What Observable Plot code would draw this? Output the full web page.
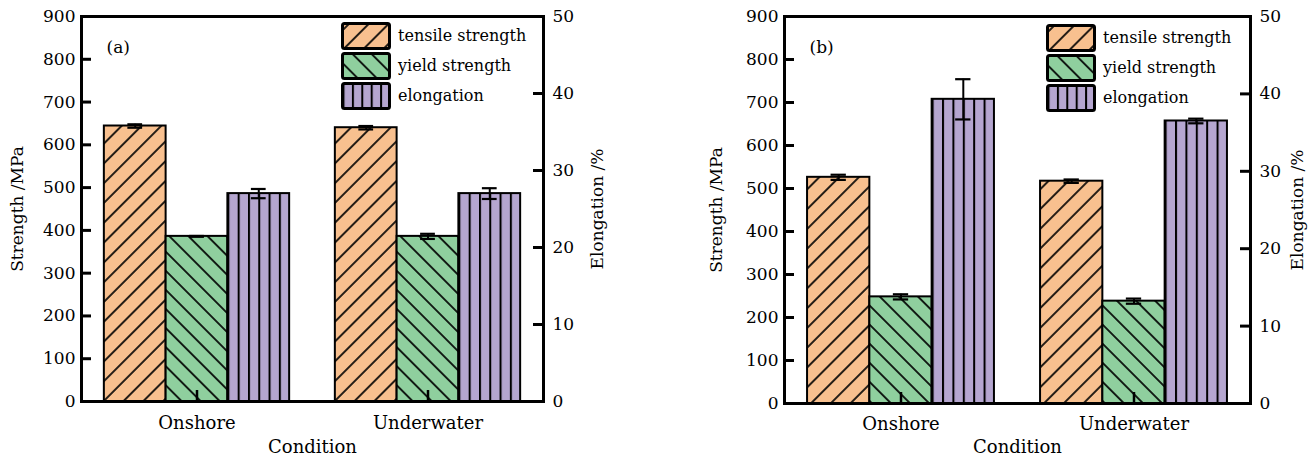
<!DOCTYPE html>
<html>
<head>
<meta charset="utf-8">
<script src="https://cdn.jsdelivr.net/npm/d3@7"></script>
<script src="https://cdn.jsdelivr.net/npm/@observablehq/plot@0.6"></script>
<style>
  html, body { margin: 0; padding: 0; background: #fff; }
  body { font-family: "DejaVu Serif", serif; color: #000; }
  #wrap { position: relative; width: 1311px; height: 458px; overflow: hidden; }
  .panel { position: absolute; top: 0; }
  .legend { position: absolute; font-size: 16px; line-height: 30px; }
  .legend .row { display: flex; align-items: center; height: 30px; }
  .legend svg { display: block; margin-right: 7px; }
</style>
</head>
<body>
<!-- hatch fills shared by the bars and the legend keys -->
<svg width="0" height="0" style="position:absolute">
  <defs>
    <pattern id="fill-tensile" patternUnits="userSpaceOnUse" width="14" height="14" patternTransform="rotate(45)">
      <rect width="14" height="14" fill="#F8C08F"/>
      <line x1="7" y1="-2" x2="7" y2="16" stroke="#000" stroke-width="1.7"/>
    </pattern>
    <pattern id="fill-yield" patternUnits="userSpaceOnUse" width="13.5" height="13.5" patternTransform="rotate(-45)">
      <rect width="13.5" height="13.5" fill="#8FCF9E"/>
      <line x1="6.75" y1="-2" x2="6.75" y2="16" stroke="#000" stroke-width="1.7"/>
    </pattern>
    <pattern id="fill-elongation" patternUnits="objectBoundingBox" width="0.166667" height="1">
      <rect width="200" height="2000" fill="#B5A6D0"/>
      <line x1="0" y1="0" x2="0" y2="2000" stroke="#000" stroke-width="4"/>
    </pattern>
    <pattern id="fill-elongation-key" patternUnits="objectBoundingBox" width="0.2" height="1">
      <rect width="200" height="2000" fill="#B5A6D0"/>
      <line x1="0" y1="0" x2="0" y2="2000" stroke="#000" stroke-width="4"/>
    </pattern>
  </defs>
</svg>
<div id="wrap"></div>
<script>
// Categories and series
const conditions = ["Onshore", "Underwater"];
const seriesNames = ["tensile strength", "yield strength", "elongation"];
const seriesFills = ["url(#fill-tensile)", "url(#fill-yield)", "url(#fill-elongation)"];
const keyFills = ["url(#fill-tensile)", "url(#fill-yield)", "url(#fill-elongation-key)"];

// Axis ticks
const strengthTicks = [0, 100, 200, 300, 400, 500, 600, 700, 800, 900];
const elongationTicks = [0, 10, 20, 30, 40, 50];
const strengthMax = 900;
const elongationMax = 50;

// Panel (a): values (MPa, %) with error half-widths
const tensileA = [644, 640];
const tensileErrA = [4, 4];
const yieldA = [386, 386];
const yieldErrA = [1, 6];
const elongationA = [27.0, 27.0];
const elongationErrA = [0.6, 0.7];

// Panel (b)
const tensileB = [526, 517];
const tensileErrB = [6, 4];
const yieldB = [248, 238];
const yieldErrB = [6, 6];
const elongationB = [39.3, 36.5];
const elongationErrB = [2.6, 0.3];

// elongation is drawn against the strength scale; the right axis converts back
const k = strengthMax / elongationMax;
const tickLength = 10;

function rowsFor(tensile, tensileErr, yieldS, yieldErr, elong, elongErr) {
  return conditions.flatMap((c, i) => [
    {condition: c, series: seriesNames[0], y: tensile[i], err: tensileErr[i]},
    {condition: c, series: seriesNames[1], y: yieldS[i], err: yieldErr[i]},
    {condition: c, series: seriesNames[2], y: elong[i] * k, err: elongErr[i] * k}
  ]);
}

function panel({rows, tag, left, width, marginLeft, marginRight, marginBottom,
                leftLabelOffset, rightLabelOffset, fxLabelOffset, fxTickPadding, legendLeft, legendTop}) {
  const elongPositions = elongationTicks.map(t => t * k);
  const first = conditions[0];
  const last = conditions[conditions.length - 1];
  const facetWidth = (width - marginLeft - marginRight) / conditions.length;
  const chart = Plot.plot({
    width, height: 458,
    marginTop: 16, marginBottom, marginLeft, marginRight,
    style: {fontFamily: "DejaVu Serif", fontSize: "17px", color: "#000", background: "transparent"},
    fx: {domain: conditions, padding: 0, round: false},
    x: {domain: seriesNames, paddingInner: 0, paddingOuter: 0.37, round: false, axis: null},
    y: {domain: [0, strengthMax]},
    color: {domain: seriesNames, range: seriesFills},
    marks: [
      Plot.barY(rows, {fx: "condition", x: "series", y: "y", fill: "series", stroke: "#000", strokeWidth: 2}),
      Plot.ruleX(rows, {fx: "condition", x: "series", y1: d => d.y - d.err, y2: d => d.y + d.err, stroke: "#000", strokeWidth: 2}),
      Plot.tickY(rows, {fx: "condition", x: "series", y: d => d.y - d.err, insetLeft: 23.5, insetRight: 23.5, stroke: "#000", strokeWidth: 2.2}),
      Plot.tickY(rows, {fx: "condition", x: "series", y: d => d.y + d.err, insetLeft: 23.5, insetRight: 23.5, stroke: "#000", strokeWidth: 2.2}),
      // inward tick marks on both value axes
      Plot.tickY(strengthTicks, {fx: () => first, y: d => d, insetRight: facetWidth - tickLength,
                                 stroke: "#000", strokeWidth: 3}),
      Plot.tickY(elongPositions, {fx: () => last, y: d => d, insetLeft: facetWidth - tickLength,
                                  stroke: "#000", strokeWidth: 3}),
      Plot.frame({facet: "super", stroke: "#000", strokeWidth: 3}),
      // tick labels and titles
      Plot.axisY({anchor: "left", ticks: strengthTicks, tickSize: 0, tickPadding: 6,
                  label: "Strength /MPa", labelArrow: false, labelAnchor: "center", labelOffset: leftLabelOffset, fontSize: 17}),
      Plot.axisY({anchor: "right", ticks: elongPositions, tickFormat: d => Math.round(d / k),
                  tickSize: 0, tickPadding: 9,
                  label: "Elongation /%", labelArrow: false, labelAnchor: "center", labelOffset: rightLabelOffset, fontSize: 17}),
      Plot.axisFx({anchor: "bottom", tickSize: -11, tickPadding: fxTickPadding, strokeWidth: 2.5,
                   label: "Condition", labelArrow: false, labelAnchor: "center", labelOffset: fxLabelOffset, fontSize: 18}),
      Plot.text([tag], {text: d => d, frameAnchor: "top-left", dx: 25, dy: 24, textAnchor: "start",
                        fontSize: 17, facet: "super"})
    ]
  });
  const holder = document.createElement("div");
  holder.className = "panel";
  holder.style.left = left + "px";
  holder.appendChild(chart);

  // legend keys drawn inside the plot area
  const legend = document.createElement("div");
  legend.className = "legend";
  legend.style.left = legendLeft + "px";
  legend.style.top = legendTop + "px";
  seriesNames.forEach((name, i) => {
    const row = document.createElement("div");
    row.className = "row";
    row.innerHTML = `<svg width="50" height="28"><rect x="1.5" y="1.5" width="47" height="25" rx="2" fill="${keyFills[i]}" stroke="#000" stroke-width="3"/></svg><span>${name}</span>`;
    legend.appendChild(row);
  });
  holder.appendChild(legend);
  document.getElementById("wrap").appendChild(holder);
}

panel({
  rows: rowsFor(tensileA, tensileErrA, yieldA, yieldErrA, elongationA, elongationErrA),
  tag: "(a)", left: 0, width: 650,
  marginLeft: 81, marginRight: 107, marginBottom: 57,
  leftLabelOffset: 71, rightLabelOffset: 59, fxLabelOffset: 51, fxTickPadding: 26,
  legendLeft: 341, legendTop: 21
});

panel({
  rows: rowsFor(tensileB, tensileErrB, yieldB, yieldErrB, elongationB, elongationErrB),
  tag: "(b)", left: 650, width: 661,
  marginLeft: 134, marginRight: 61, marginBottom: 55,
  leftLabelOffset: 75, rightLabelOffset: 52, fxLabelOffset: 49, fxTickPadding: 25,
  legendLeft: 396, legendTop: 23
});
</script>
</body>
</html>
